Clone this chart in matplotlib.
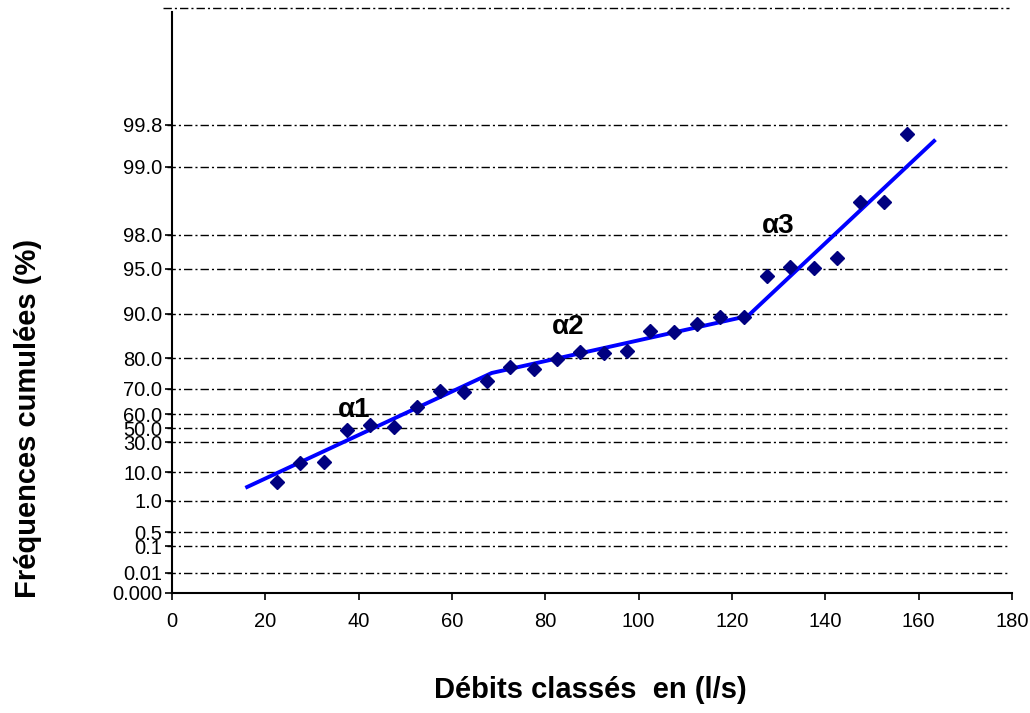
import matplotlib
matplotlib.use("Agg")
import matplotlib.pyplot as plt

plt.rcParams["font.family"] = ["Liberation Sans", "DejaVu Sans"]

# échelle des fréquences cumulées (variable réduite, unités arbitraires de l'axe)
freq_labels = ["0.000", "0.01", "0.1", "0.5", "1.0", "10.0", "30.0", "50.0",
               "60.0", "70.0", "80.0", "90.0", "95.0", "98.0", "99.0", "99.8"]
freq_u = [0.0, 0.20, 0.47, 0.61, 0.92, 1.21, 1.51, 1.65,
          1.79, 2.04, 2.35, 2.795, 3.24, 3.58, 4.26, 4.68]
u_top = 5.85

# débits classés (centres de classe) et fréquences observées
debits = [22.5, 27.5, 32.5, 37.5, 42.5, 47.5, 52.5, 57.5, 62.5, 67.5,
          72.5, 77.5, 82.5, 87.5, 92.5, 97.5, 102.5, 107.5, 112.5, 117.5,
          122.5, 127.5, 132.5, 137.5, 142.5, 147.5, 152.5, 157.5]
freq_obs = [1.11, 1.30, 1.31, 1.63, 1.68, 1.66, 1.86, 2.02, 2.01, 2.12,
            2.26, 2.24, 2.34, 2.41, 2.40, 2.42, 2.62, 2.61, 2.69, 2.76,
            2.76, 3.17, 3.26, 3.25, 3.35, 3.91, 3.91, 4.59]

# ajustement en trois segments
seg_x = [16.1, 68.5, 123.4, 163.3]
seg_u = [1.06, 2.20, 2.77, 4.52]

# annotations des pentes
alpha_txt = ["α1", "α2", "α3"]
alpha_x = [39.0, 85.0, 130.0]
alpha_u = [1.83, 2.66, 3.67]

fig = plt.figure(figsize=(10.30, 7.13), dpi=100)
ax = fig.add_axes([172 / 1030, 1 - 593 / 713, 840 / 1030, 585 / 713])

grid_style = dict(color="black", linewidth=1.0, linestyle=(0, (6, 2.2, 1.5, 2.2)))
for u in freq_u[1:]:
    ax.axhline(u, xmin=-0.006, xmax=0.997, clip_on=False, **grid_style)
ax.axhline(u_top, xmin=-0.011, xmax=0.997, clip_on=False, **grid_style)

ax.plot(seg_x, seg_u, color="#0000ff", linewidth=2.8, zorder=3)
ax.plot(debits, freq_obs, linestyle="none", marker="D", markersize=7,
        color="#000080", zorder=4)

for t, x, u in zip(alpha_txt, alpha_x, alpha_u):
    ax.text(x, u, t, fontsize=20, fontweight="bold", ha="center", va="center", zorder=5)

ax.set_xlim(0, 180)
ax.set_ylim(0, u_top)
ax.set_xticks(range(0, 181, 20))
ax.set_yticks(freq_u)
ax.set_yticklabels(freq_labels)
ax.tick_params(axis="both", direction="out", length=5, width=1.2, labelsize=14.5, colors="black")
ax.tick_params(axis="x", pad=9)
ax.tick_params(axis="y", pad=2)

for s in ["top", "right"]:
    ax.spines[s].set_visible(False)
for s in ["left", "bottom"]:
    ax.spines[s].set_linewidth(1.5)
ax.spines["left"].set_bounds(0, 5.81)

fig.text(28 / 1030, 1 - 418 / 713, "Fréquences cumulées (%)", rotation=90,
         fontsize=21, fontweight="bold", ha="center", va="center")
fig.text(590 / 1030, 1 - 690 / 713, "Débits classés  en (l/s)",
         fontsize=21, fontweight="bold", ha="center", va="center")

fig.savefig("out.png", dpi=100)
